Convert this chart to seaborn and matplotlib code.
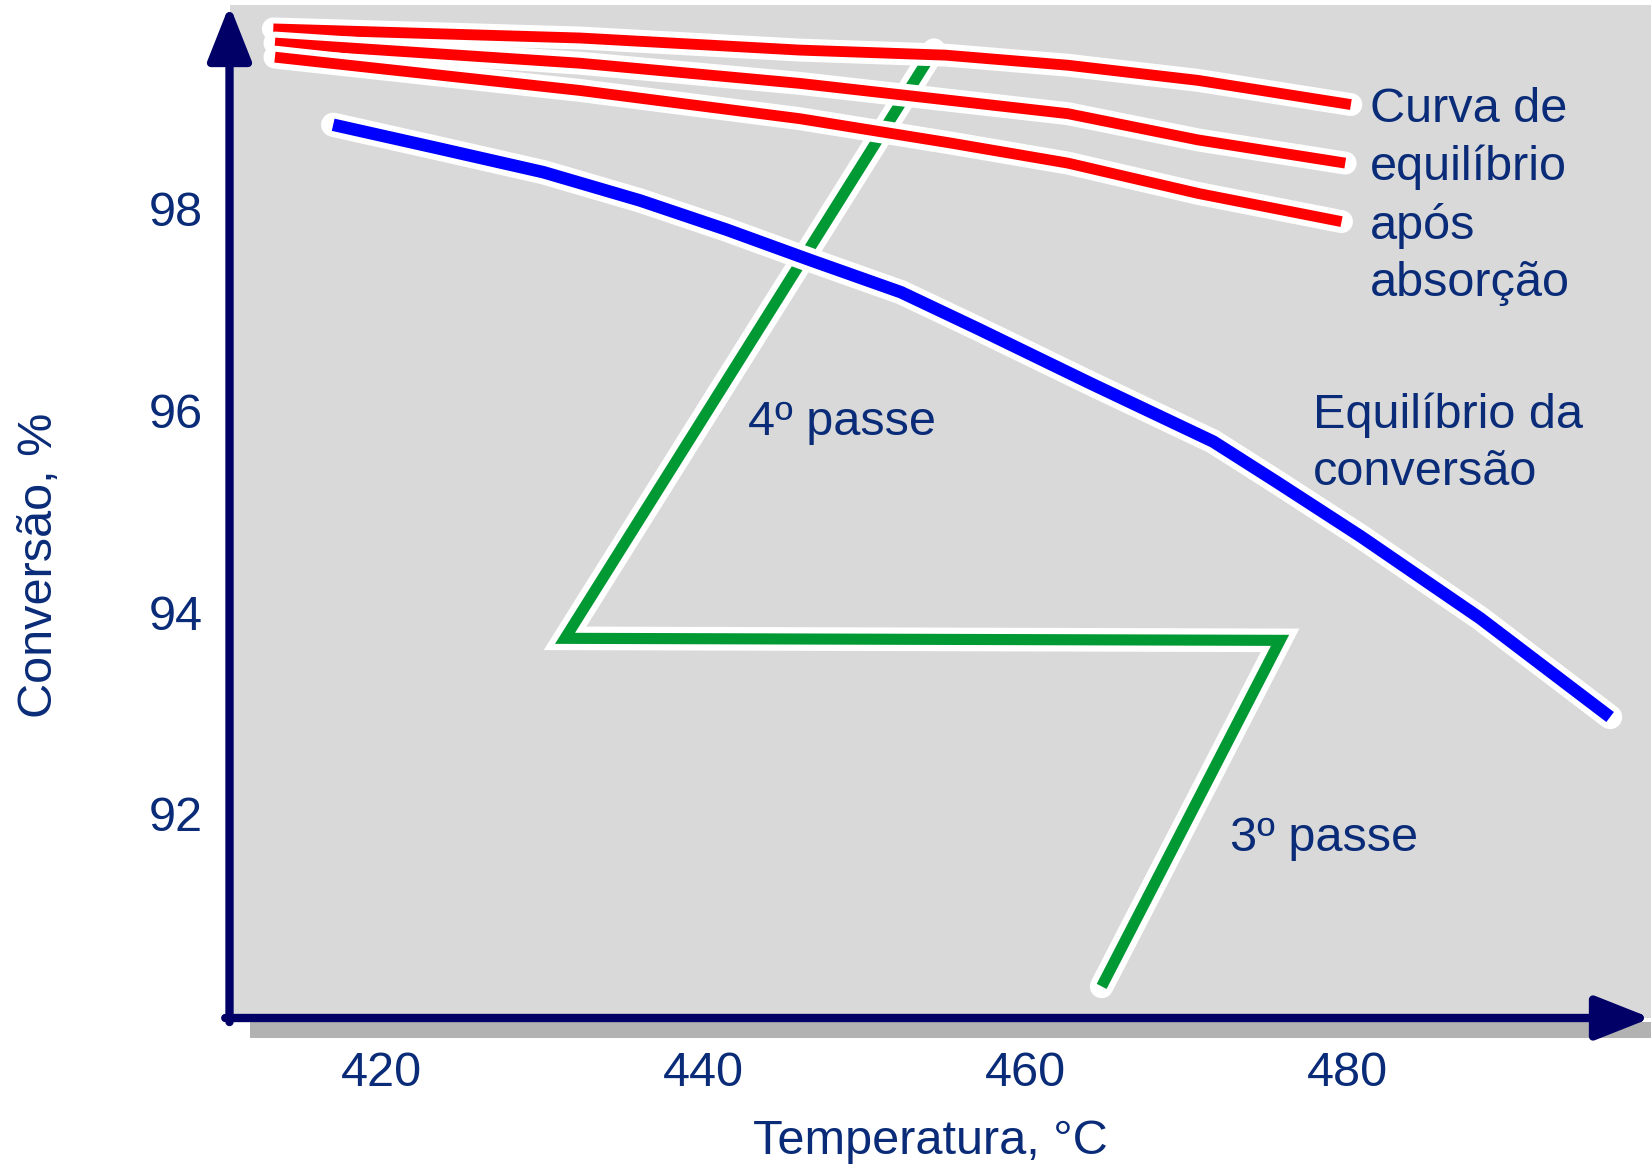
import numpy as np
import pandas as pd
import matplotlib
matplotlib.use("Agg")
import matplotlib.pyplot as plt
import matplotlib.patheffects as pe
from matplotlib.patches import Rectangle
import seaborn as sns

# ---------------- data ----------------
temp_eq = [416.99, 423.42, 430.04, 436.04, 441.43, 446.60, 452.26, 457.02,
           463.99, 471.65, 475.59, 480.81, 488.22, 496.30]
conv_eq = [98.83, 98.60, 98.36, 98.08, 97.79, 97.49, 97.17, 96.81,
           96.27, 95.69, 95.29, 94.75, 93.94, 92.96]

temp_abs1 = [413.27, 432.32, 445.98, 455.01, 462.62, 470.70, 480.20]
conv_abs1 = [99.78, 99.69, 99.57, 99.52, 99.42, 99.27, 99.03]
temp_abs2 = [413.37, 432.32, 445.98, 462.62, 470.70, 479.85]
conv_abs2 = [99.64, 99.44, 99.24, 98.94, 98.68, 98.45]
temp_abs3 = [413.37, 432.32, 445.98, 455.30, 462.62, 470.70, 479.62]
conv_abs3 = [99.50, 99.17, 98.89, 98.65, 98.45, 98.15, 97.87]

temp_pass = [464.72, 475.80, 431.39, 454.30]
conv_pass = [90.29, 93.72, 93.74, 99.57]

x_ticks = [420, 440, 460, 480]
y_ticks = [92, 94, 96, 98]

label_x = "Temperatura, °C"
label_y = "Conversão, %"
txt_abs = "Curva de\nequilíbrio\napós\nabsorção"
txt_eq = "Equilíbrio da\nconversão"
txt_p4 = "4º passe"
txt_p3 = "3º passe"

# ---------------- style ----------------
sns.set_style("white")
plt.rcParams['font.family'] = ['Liberation Sans', 'DejaVu Sans']
TXT = '#0a2c78'
AX = '#000066'
FS = 35

W, H = 1651, 1170
fig = plt.figure(figsize=(W / 100, H / 100), dpi=100)
ax_left, ax_bottom, ax_top = 229.5, 1018, 5
ax = fig.add_axes([ax_left / W, 1 - ax_bottom / H, 1 - ax_left / W, (ax_bottom - ax_top) / H])
ax.set_facecolor('#d9d9d9')
for s in ax.spines.values():
    s.set_visible(False)

# shadow strip under x-axis (drawn beneath the axes)
fig.patches.append(Rectangle((250 / W, 1 - 1038 / H), 1 - 250 / W, 16 / H,
                             transform=fig.transFigure, facecolor='#b2b2b2',
                             edgecolor='none', zorder=-1))


def draw(xs, ys, color, lw, wlw, join='round'):
    df = pd.DataFrame({'T': xs, 'X': ys})
    sns.lineplot(data=df, x='T', y='X', sort=False, estimator=None, color=color,
                 lw=lw, ax=ax, solid_capstyle='butt', solid_joinstyle=join)
    ln = ax.lines[-1]
    ln.set_path_effects([pe.Stroke(linewidth=wlw, foreground='white',
                                   capstyle='round', joinstyle=join),
                         pe.Normal()])


draw(temp_pass, conv_pass, '#009933', 8.0, 17.0, join='miter')
draw(temp_eq, conv_eq, '#0000ff', 9.0, 17.5)
draw(temp_abs1, conv_abs1, '#ff0000', 7.8, 16.5)
draw(temp_abs2, conv_abs2, '#ff0000', 7.8, 16.5)
draw(temp_abs3, conv_abs3, '#ff0000', 7.8, 16.5)

ax.set_xlim(410.55, 498.84)
ax.set_ylim(89.977, 100.017)
ax.set_xticks(x_ticks)
ax.set_yticks(y_ticks)
ax.set_xlabel('')
ax.set_ylabel('')
ax.tick_params(direction='in', length=20, width=6.0, color=AX,
               labelcolor=TXT, labelsize=FS)
ax.tick_params(axis='x', pad=24)
ax.tick_params(axis='y', pad=19)

# axis arrows
arrow_kw = dict(arrowstyle='-|>,head_length=2.4,head_width=0.95', lw=6.0,
                color=AX, mutation_scale=14, shrinkA=0, shrinkB=0)
ax.annotate('', xy=(0, 1), xytext=(0, -0.004), xycoords='axes fraction',
            arrowprops=arrow_kw, annotation_clip=False)
ax.annotate('', xy=(1, 0), xytext=(-0.003, 0), xycoords='axes fraction',
            arrowprops=arrow_kw, annotation_clip=False)

# annotations
ax.text(481.39, 98.12, txt_abs, color=TXT, fontsize=FS, ha='left', va='center',
        linespacing=1.35)
ax.text(477.86, 95.67, txt_eq, color=TXT, fontsize=FS, ha='left', va='center',
        linespacing=1.35)
ax.text(442.73, 95.88, txt_p4, color=TXT, fontsize=FS, ha='left', va='center')
ax.text(472.68, 91.76, txt_p3, color=TXT, fontsize=FS, ha='left', va='center')

fig.text(930 / W, 1 - 1142 / H, label_x, color=TXT, fontsize=FS,
         ha='center', va='center')
fig.text(39 / W, 1 - 565 / H, label_y, color=TXT, fontsize=FS,
         ha='center', va='center', rotation=90)

fig.savefig('out.png', dpi=100, facecolor='white')
